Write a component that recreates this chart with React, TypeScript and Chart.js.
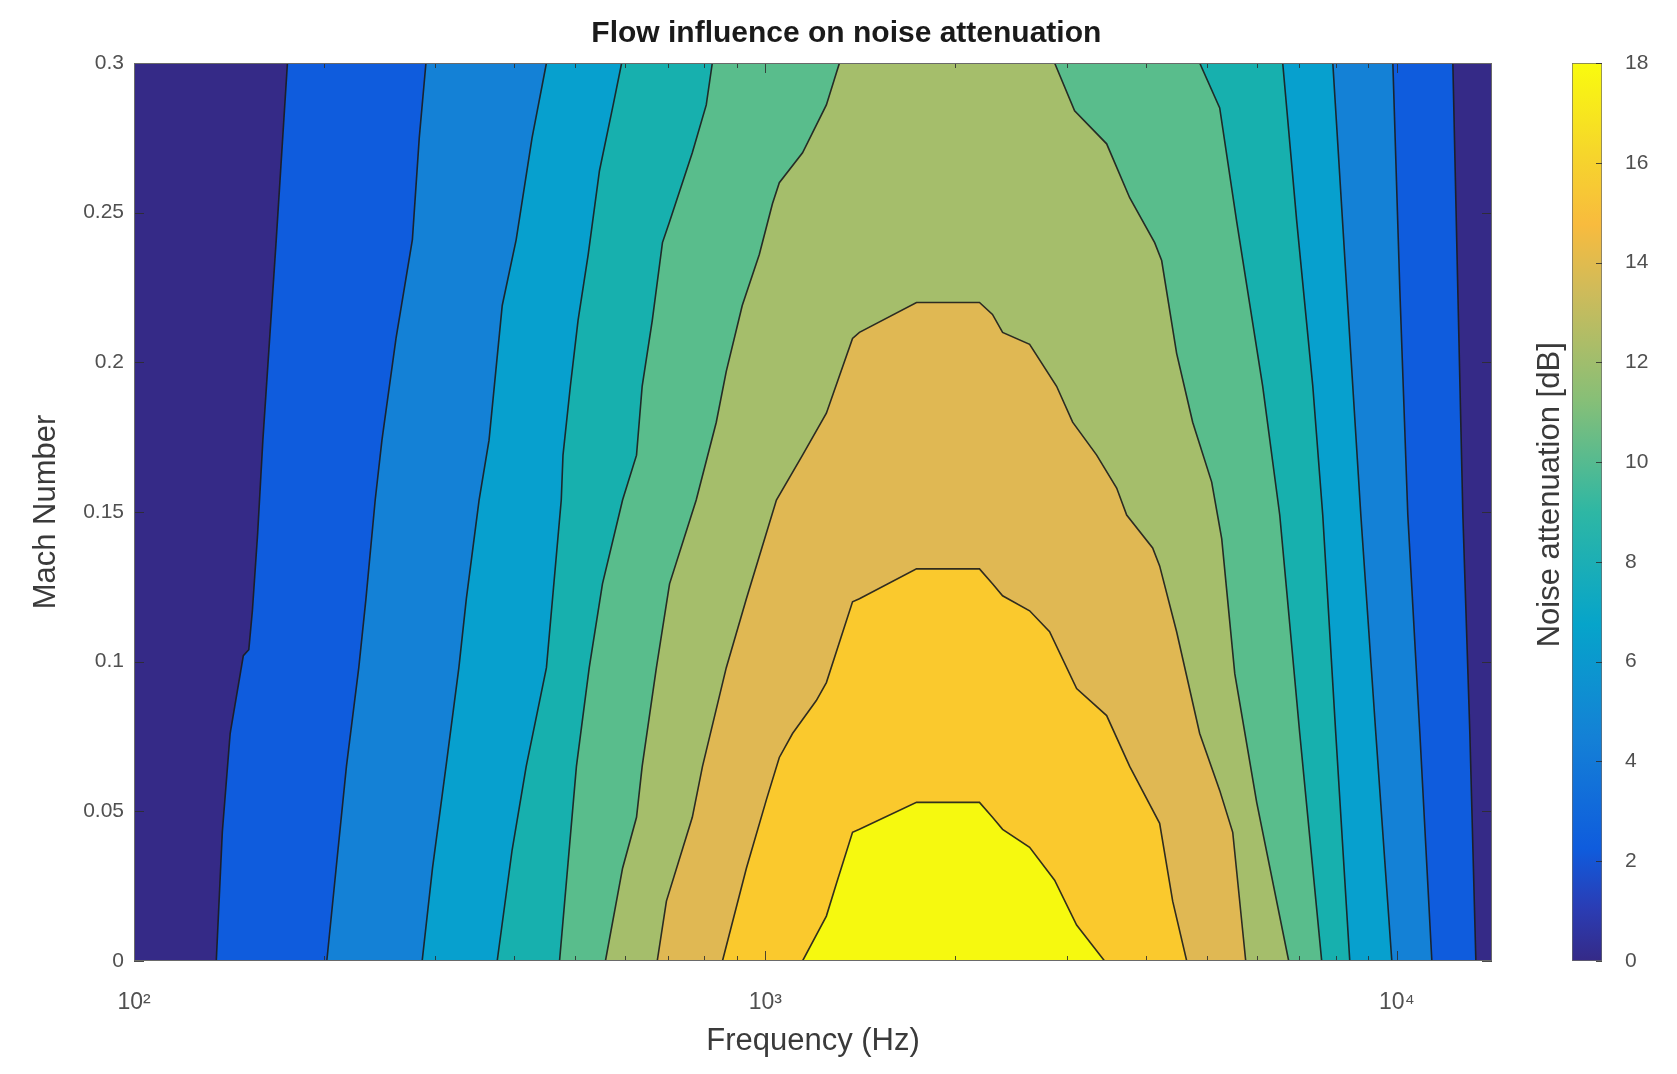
import React, { useEffect, useRef } from 'react';
import { Chart, registerables } from 'chart.js';

Chart.register(...registerables);

// ---------- axes ranges ----------
const freqMin = 100;
const freqMax = 14150;
const machMin = 0;
const machMax = 0.3;
const machStep = 0.05;
const freqTickValues = [100, 1000, 10000];
const freqTickLabels = ['10²', '10³', '10⁴'];
const colorbarRange = [0, 18];
const colorbarStep = 2;

// ---------- contour levels (dB) and the colour of the region above each level ----------
const contourLevels = [0, 2, 4, 6, 8, 10, 12, 14, 16, 18];
const bandColors = [
  '#352a87', '#0f5cdd', '#1481d6', '#07a0ce', '#17b0ae',
  '#59bd8c', '#a5be6b', '#e0b853', '#fac92d', '#f6f90f',
];

// ---------- contour paths: [frequency Hz, Mach number] ----------
const contour0 = [[100, 0], [100, 0.3], [14150, 0.3], [14150, 0]];
const contour2 = [[135, 0], [138, 0.043], [142, 0.076], [149, 0.102], [152, 0.104], [154, 0.117], [157, 0.143], [160, 0.174], [168, 0.241], [175, 0.3],
  [12266, 0.3], [12491, 0.224], [12723, 0.149], [13052, 0.076], [13341, 0]];
const contour4 = [[202, 0], [209, 0.031], [217, 0.065], [227, 0.098], [233, 0.121], [241, 0.154], [247, 0.174], [260, 0.208], [276, 0.241], [283, 0.275], [290, 0.3],
  [9856, 0.3], [10111, 0.224], [10409, 0.149], [10877, 0.076], [11363, 0]];
const contour6 = [[286, 0], [297, 0.031], [312, 0.065], [327, 0.098], [336, 0.121], [352, 0.154], [365, 0.174], [383, 0.219], [403, 0.241], [427, 0.275], [450, 0.3],
  [7918, 0.3], [8333, 0.224], [8770, 0.149], [9263, 0.076], [9820, 0]];
const contour8 = [[376, 0], [397, 0.037], [418, 0.065], [450, 0.098], [475, 0.154], [478, 0.169], [491, 0.192], [505, 0.214], [524, 0.236], [546, 0.264], [574, 0.286], [592, 0.3],
  [6596, 0.3], [6943, 0.247], [7361, 0.192], [7633, 0.149], [8004, 0.076], [8424, 0]];
const contour10 = [[472, 0], [502, 0.065], [526, 0.098], [552, 0.126], [594, 0.154], [625, 0.169], [638, 0.192], [662, 0.214], [687, 0.24], [705, 0.247], [766, 0.27], [806, 0.286], [824, 0.3],
  [4873, 0.3], [5242, 0.285], [5577, 0.247], [6132, 0.192], [6525, 0.149], [7019, 0.076], [7604, 0]];
const contour12 = [[558, 0], [594, 0.031], [625, 0.048], [638, 0.065], [672, 0.098], [705, 0.126], [777, 0.154], [836, 0.18], [867, 0.197], [919, 0.219], [978, 0.236], [1026, 0.253], [1052, 0.26], [1145, 0.27], [1249, 0.286], [1310, 0.3],
  [2871, 0.3], [3088, 0.284], [3471, 0.273], [3775, 0.255], [4135, 0.24], [4242, 0.234], [4480, 0.203], [4750, 0.18], [5091, 0.16], [5281, 0.141], [5538, 0.096], [5999, 0.053], [6742, 0]];
const contour14 = [[674, 0], [697, 0.02], [766, 0.048], [795, 0.065], [867, 0.098], [933, 0.121], [1041, 0.154], [1145, 0.169], [1249, 0.183], [1374, 0.208], [1409, 0.21], [1735, 0.22],
  [2183, 0.22], [2289, 0.216], [2375, 0.21], [2621, 0.206], [2892, 0.192], [3066, 0.18], [3347, 0.169], [3600, 0.158], [3734, 0.149], [4105, 0.138], [4211, 0.132], [4480, 0.11], [4873, 0.076], [5242, 0.057], [5497, 0.043], [5764, 0]];
const contour16 = [[855, 0], [933, 0.031], [1004, 0.054], [1052, 0.068], [1104, 0.076], [1204, 0.087], [1249, 0.093], [1374, 0.12], [1409, 0.121], [1735, 0.131],
  [2183, 0.131], [2289, 0.126], [2375, 0.122], [2621, 0.117], [2819, 0.11], [3111, 0.091], [3471, 0.082], [3775, 0.065], [4211, 0.046], [4416, 0.02], [4648, 0]];
const contour18 = [[1145, 0], [1249, 0.015], [1296, 0.026], [1374, 0.043], [1409, 0.044], [1735, 0.053],
  [2183, 0.053], [2289, 0.048], [2375, 0.044], [2621, 0.038], [2871, 0.027], [3111, 0.012], [3445, 0]];
const contours = [contour0, contour2, contour4, contour6, contour8, contour10, contour12, contour14, contour16, contour18];

// ---------- colour bar (parula) ----------
const colorbarStops = [
  [0, '#352a87'], [0.06, '#2a3db5'], [0.125, '#0f5cdd'], [0.25, '#1481d6'], [0.375, '#06a4ca'],
  [0.5, '#2eb7a4'], [0.625, '#87bf77'], [0.75, '#d1bb59'], [0.82, '#f8bb3e'], [0.9, '#f6d62b'], [1, '#f9fb0e'],
];

const FONT = "'Liberation Sans', Arial, Helvetica, sans-serif";
const TICK_COLOR = '#505050';
const LABEL_COLOR = '#3a3a3a';

const frameTicks = {
  id: 'frameTicks',
  afterDatasetsDraw(chart: any) {
    const { ctx, chartArea: a, scales } = chart;
    const x = scales.x;
    const y = scales.y;
    ctx.save();
    ctx.strokeStyle = 'rgba(45,45,45,0.85)';
    ctx.lineWidth = 1;
    const seg = (x1: number, y1: number, x2: number, y2: number) => {
      ctx.beginPath();
      ctx.moveTo(x1, y1);
      ctx.lineTo(x2, y2);
      ctx.stroke();
    };
    for (const t of y.ticks) {
      const py = Math.round(y.getPixelForValue(t.value)) + 0.5;
      seg(a.left, py, a.left + 10, py);
      seg(a.right - 10, py, a.right, py);
    }
    for (const d of freqTickValues) {
      for (let k = 1; k <= 9; k++) {
        const v = d * k;
        if (v < freqMin || v > freqMax) continue;
        const px = Math.round(x.getPixelForValue(v)) + 0.5;
        const len = k === 1 ? 10 : 5;
        seg(px, a.bottom, px, a.bottom - len);
        seg(px, a.top, px, a.top + len);
      }
    }
    ctx.strokeStyle = '#6a6a6a';
    ctx.strokeRect(a.left + 0.5, a.top + 0.5, a.right - a.left - 1, a.bottom - a.top - 1);
    ctx.restore();
  },
};

const colorbarTicks = {
  id: 'colorbarTicks',
  afterDatasetsDraw(chart: any) {
    const { ctx, chartArea: a, scales } = chart;
    const y = scales.y;
    ctx.save();
    ctx.strokeStyle = 'rgba(45,45,45,0.85)';
    ctx.lineWidth = 1;
    for (const t of y.ticks) {
      const py = Math.round(y.getPixelForValue(t.value)) + 0.5;
      ctx.beginPath();
      ctx.moveTo(a.right - 6, py);
      ctx.lineTo(a.right, py);
      ctx.stroke();
    }
    ctx.restore();
  },
};

export default function App() {
  const mainRef = useRef<HTMLCanvasElement | null>(null);
  const barRef = useRef<HTMLCanvasElement | null>(null);

  useEffect(() => {
    const datasets = contourLevels.map((lvl, i) => ({
      label: `${lvl} dB`,
      data: contours[i].map(([f, m]) => ({ x: f, y: m })),
      backgroundColor: bandColors[i],
      borderColor: lvl === 0 ? 'rgba(0,0,0,0)' : 'rgba(28,28,28,0.9)',
      borderWidth: lvl === 0 ? 0 : 1.6,
      fill: 'shape',
      pointRadius: 0,
      pointHoverRadius: 0,
      tension: 0,
      order: -lvl,
      clip: 0,
    }));

    const main = new Chart(mainRef.current as HTMLCanvasElement, {
      type: 'line',
      data: { datasets: datasets as any },
      options: {
        responsive: false,
        animation: false,
        events: [],
        layout: { padding: { left: 0, right: 185, top: 0, bottom: 0 } },
        plugins: {
          legend: { display: false },
          tooltip: { enabled: false },
          title: {
            display: true,
            text: '        Flow influence on noise attenuation',
            fullSize: false,
            color: '#1a1a1a',
            font: { family: FONT, size: 30, weight: 'bold' },
            padding: { top: 16, bottom: 11 },
          },
        },
        scales: {
          x: {
            type: 'logarithmic',
            min: freqMin,
            max: freqMax,
            grid: { display: false },
            border: { display: false },
            afterBuildTicks: (s: any) => {
              s.ticks = freqTickValues.map((v) => ({ value: v }));
            },
            afterFit: (s: any) => {
              s.height = 113;
            },
            ticks: {
              autoSkip: false,
              maxRotation: 0,
              padding: 20,
              color: TICK_COLOR,
              font: { family: FONT, size: 23 },
              callback: (v: any) => {
                const i = freqTickValues.indexOf(Number(v));
                return i >= 0 ? freqTickLabels[i] : '';
              },
            },
            title: {
              display: true,
              text: 'Frequency (Hz)',
              color: LABEL_COLOR,
              font: { family: FONT, size: 31 },
              padding: { top: 0, bottom: 14 },
            },
          },
          y: {
            type: 'linear',
            min: machMin,
            max: machMax,
            grid: { display: false },
            border: { display: false },
            afterFit: (s: any) => {
              s.width = 134;
            },
            ticks: {
              stepSize: machStep,
              padding: 2,
              color: TICK_COLOR,
              font: { family: FONT, size: 21 },
              callback: (v: any) => String(Number(Number(v).toFixed(2))),
            },
            title: {
              display: true,
              text: 'Mach Number',
              color: LABEL_COLOR,
              font: { family: FONT, size: 31 },
              padding: { top: 28, bottom: 0 },
            },
          },
        },
      } as any,
      plugins: [frameTicks],
    });

    const bar = new Chart(barRef.current as HTMLCanvasElement, {
      type: 'bar',
      data: {
        labels: [''],
        datasets: [
          {
            data: [colorbarRange[1]],
            yAxisID: 'y',
            barPercentage: 1,
            categoryPercentage: 1,
            borderColor: '#6a6a6a',
            borderWidth: 1,
            borderSkipped: false,
            backgroundColor: (c: any) => {
              const ch = c.chart;
              const area = ch.chartArea;
              if (!area) return bandColors[0];
              const g = ch.ctx.createLinearGradient(0, area.bottom, 0, area.top);
              colorbarStops.forEach(([t, col]) => g.addColorStop(t as number, col as string));
              return g;
            },
          },
        ],
      },
      options: {
        responsive: false,
        animation: false,
        events: [],
        layout: { padding: { left: 0, right: 0, top: 63, bottom: 113 } },
        plugins: { legend: { display: false }, tooltip: { enabled: false } },
        scales: {
          x: { display: false },
          yLabel: {
            type: 'linear',
            position: 'left',
            min: colorbarRange[0],
            max: colorbarRange[1],
            grid: { display: false },
            border: { display: false },
            ticks: { display: false },
            afterFit: (s: any) => {
              s.width = 72;
            },
            title: {
              display: true,
              text: '    Noise attenuation [dB]',
              color: LABEL_COLOR,
              font: { family: FONT, size: 31 },
              padding: { top: 32, bottom: 0 },
            },
          },
          y: {
            type: 'linear',
            position: 'right',
            min: colorbarRange[0],
            max: colorbarRange[1],
            grid: { display: false },
            border: { display: false },
            afterFit: (s: any) => {
              s.width = 75;
            },
            ticks: {
              stepSize: colorbarStep,
              padding: 15,
              color: TICK_COLOR,
              font: { family: FONT, size: 21 },
            },
          },
        },
      } as any,
      plugins: [colorbarTicks],
    });

    return () => {
      main.destroy();
      bar.destroy();
    };
  }, []);

  return (
    <div style={{ position: 'absolute', left: 0, top: 0, width: 1677, height: 1074, background: '#fff' }}>
      <canvas ref={mainRef} width={1677} height={1074} style={{ position: 'absolute', left: 0, top: 0, width: 1677, height: 1074 }} />
      <canvas ref={barRef} width={177} height={1074} style={{ position: 'absolute', left: 1500, top: 0, width: 177, height: 1074 }} />
    </div>
  );
}
